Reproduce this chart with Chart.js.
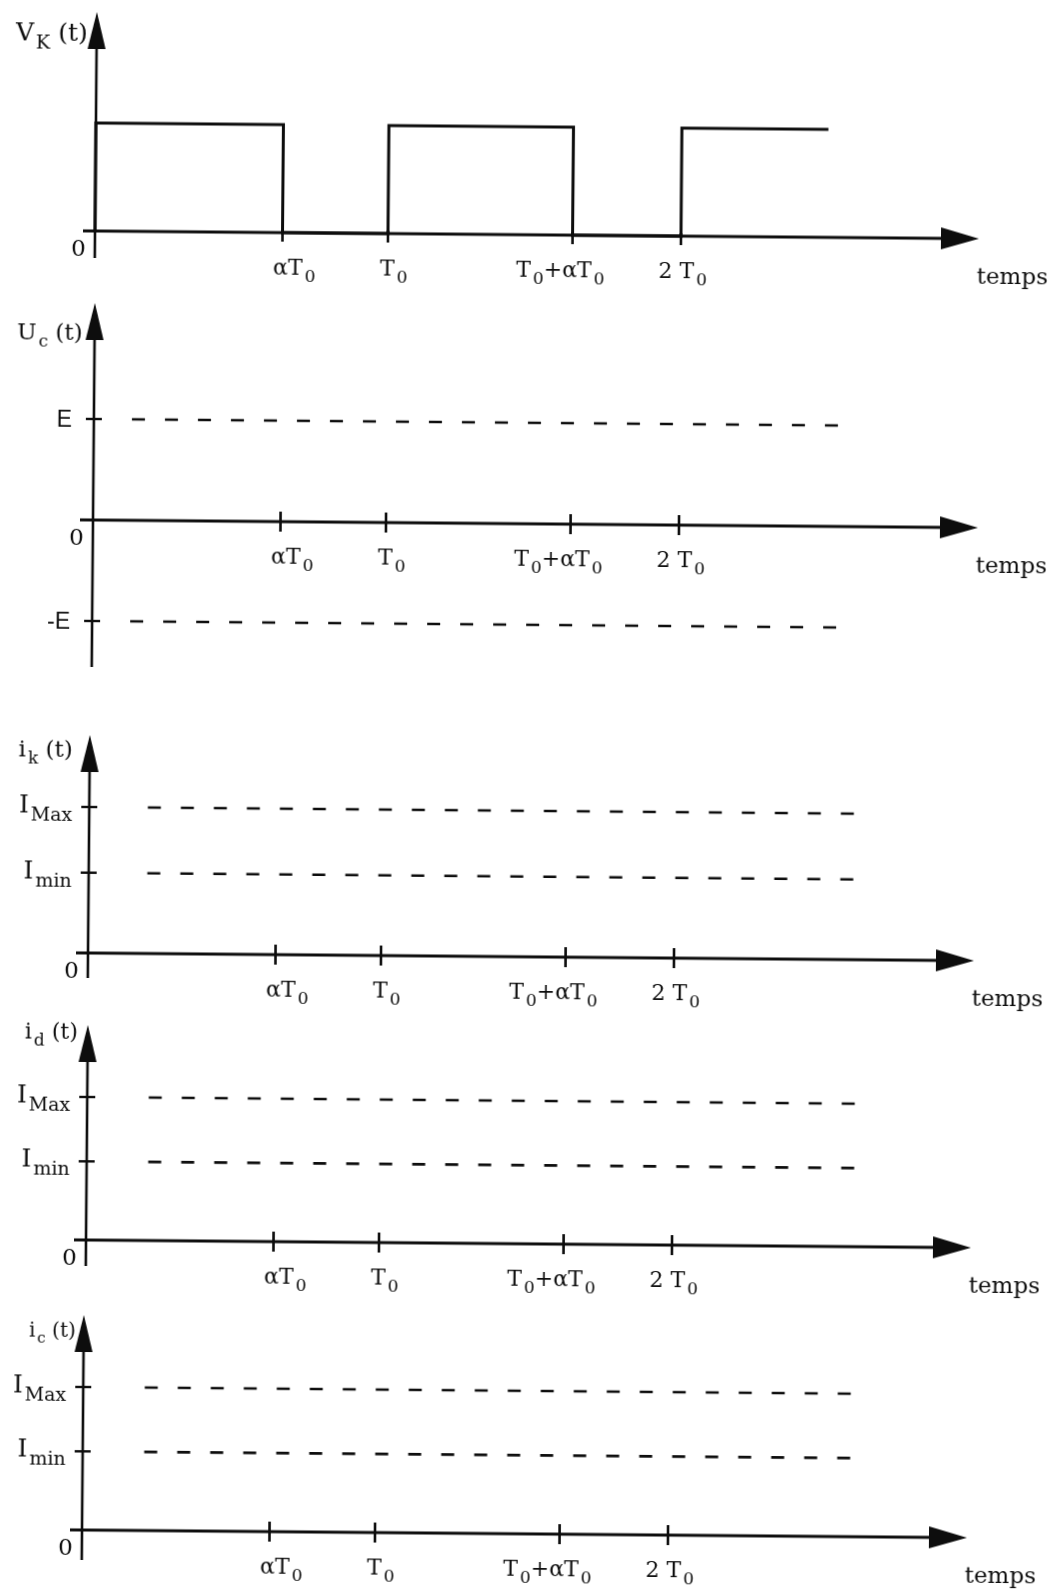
<!DOCTYPE html>
<html>
<head>
<meta charset="utf-8">
<script src="https://cdn.jsdelivr.net/npm/chart.js@4.4.1/dist/chart.umd.min.js"></script>
<style>
  html, body { margin: 0; padding: 0; background: #fff; }
  #wrap { position: relative; width: 1055px; height: 1594px; overflow: hidden; background: #fff; }
  #wrap canvas { position: absolute; left: 0; top: 0; }
</style>
</head>
<body>
<div id="wrap">
  <canvas id="vk" width="1055" height="1594"></canvas>
  <canvas id="uc" width="1055" height="1594"></canvas>
  <canvas id="ik" width="1055" height="1594"></canvas>
  <canvas id="id" width="1055" height="1594"></canvas>
  <canvas id="ic" width="1055" height="1594"></canvas>
</div>
<script>
// temps en unités de T0, niveaux normalisés
const tickValues = [0.64, 1, 1.63, 2];
const tickLabels = ['αT_{0}', 'T_{0}', 'T_{0}+αT_{0}', '2 T_{0}'];

const vkTime  = [0, 0, 0.64, 0.64, 1, 1, 1.63, 1.63, 2, 2, 2.5];
const vkLevel = [0, 1, 1, 0, 0, 1, 1, 0, 0, 1, 1];

const ucLevels = [1, -1];
const ucLabels = ['E', '-E'];
const ucDash = [0.13, 2.58];

const iLevels = [1, 0.55];
const iLabels = ['I_{Max}', 'I_{min}'];
const ikDash = [0.2, 2.67];
const idDash = [0.21, 2.66];
const icDash = [0.21, 2.67];

const titles = ['V_{K} (t)', 'U_{c} (t)', 'i_{k} (t)', 'i_{d} (t)', 'i_{c} (t)'];

// mise en page (pixels)
const W = 1055, H = 1594, pxPerT = 293;
const TILT = 0.5; // degrés, inclinaison du scan
const INK = '#0d0d0d';
const SERIF = '"DejaVu Serif", "Liberation Serif", serif';
const SANS = '"Liberation Sans Narrow", "Liberation Sans", sans-serif';
const tickLabelDx = [12, 6, -12, 2];

const panels = [
  { axisX: 95, zeroY: 231, unit: 108, top: 12,   bottom: 258,  tip: 979, left: 83, titleX: 86, titleY: 41,   titleSize: 25 },
  { axisX: 93, zeroY: 520, unit: 101, top: 303,  bottom: 667,  tip: 978, left: 80, titleX: 81, titleY: 340,  titleSize: 23 },
  { axisX: 88, zeroY: 953, unit: 146, top: 735,  bottom: 978,  tip: 974, left: 76, titleX: 71, titleY: 757,  titleSize: 23 },
  { axisX: 86, zeroY: 1240, unit: 143, top: 1025, bottom: 1266, tip: 971, left: 74, titleX: 76, titleY: 1039, titleSize: 22 },
  { axisX: 82, zeroY: 1530, unit: 143, top: 1315, bottom: 1560, tip: 967, left: 70, titleX: 74, titleY: 1337, titleSize: 20 }
];

// texte avec indices : 'I_{Max}'
function parseRich(str) {
  const runs = [];
  const re = /_\{([^}]*)\}/g;
  let last = 0, m;
  while ((m = re.exec(str))) {
    if (m.index > last) runs.push({ t: str.slice(last, m.index), sub: false });
    runs.push({ t: m[1], sub: true });
    last = re.lastIndex;
  }
  if (last < str.length) runs.push({ t: str.slice(last), sub: false });
  return runs;
}

function drawRich(ctx, str, x, y, align, size, family, ratio = 0.78) {
  const runs = parseRich(str);
  const subSize = Math.round(size * ratio);
  let total = 0;
  runs.forEach(r => {
    ctx.font = (r.sub ? subSize : size) + 'px ' + family;
    r.w = ctx.measureText(r.t).width + (r.sub ? 2 : 0);
    total += r.w;
  });
  let cx = align === 'right' ? x - total : align === 'center' ? x - total / 2 : x;
  ctx.textAlign = 'left';
  ctx.textBaseline = 'alphabetic';
  runs.forEach(r => {
    ctx.font = (r.sub ? subSize : size) + 'px ' + family;
    ctx.fillText(r.t, cx + (r.sub ? 2 : 0), y + (r.sub ? Math.round(size * 0.3) : 0));
    cx += r.w;
  });
}

function seg(ctx, x1, y1, x2, y2) {
  ctx.beginPath(); ctx.moveTo(x1, y1); ctx.lineTo(x2, y2); ctx.stroke();
}

function axesPlugin(p, idx, levels, levelLabels, levelStyle) {
  return {
    id: 'axes' + idx,
    afterDatasetsDraw(chart) {
      const { ctx, scales: { x, y } } = chart;
      const x0 = x.getPixelForValue(0), y0 = y.getPixelForValue(0);
      const xl = x.getPixelForValue(x.min), xr = x.getPixelForValue(x.max);
      const yt = y.getPixelForValue(y.max), yb = y.getPixelForValue(y.min);
      ctx.save();
      ctx.strokeStyle = INK; ctx.fillStyle = INK; ctx.lineCap = 'butt';

      // axe des temps + flèche
      ctx.lineWidth = 3;
      seg(ctx, xl, y0, xr - 30, y0);
      ctx.beginPath();
      ctx.moveTo(xr, y0); ctx.lineTo(xr - 38, y0 - 11); ctx.lineTo(xr - 38, y0 + 11); ctx.closePath(); ctx.fill();

      // axe vertical + flèche
      ctx.lineWidth = 2.6;
      seg(ctx, x0, yb, x0, yt + 30);
      ctx.beginPath();
      ctx.moveTo(x0, yt); ctx.lineTo(x0 - 9, yt + 37); ctx.lineTo(x0 + 9, yt + 37); ctx.closePath(); ctx.fill();

      // graduations temporelles
      ctx.lineWidth = 2.6;
      tickValues.forEach((v, i) => {
        const px = x.getPixelForValue(v);
        if (idx > 0) seg(ctx, px, y0 - 10, px, y0 + 10);
        else seg(ctx, px, y0 - 3, px, y0 + 9);
        drawRich(ctx, tickLabels[i], px + tickLabelDx[i], y0 + 42, 'center', 22, SERIF);
      });

      // graduations de niveau
      levels.forEach((v, i) => {
        const py = y.getPixelForValue(v);
        ctx.lineWidth = 2.4;
        seg(ctx, x0 - 8, py, x0 + 8, py);
        if (levelStyle === 'sans') {
          drawRich(ctx, levelLabels[i], x0 - 22, py + 8, 'right', 23, SANS);
        } else {
          drawRich(ctx, levelLabels[i], x0 - 17, py + 6, 'right', 25, SERIF, 0.76);
        }
      });

      // origine, titre, temps
      drawRich(ctx, '0', x0 - 9, y0 + 25, 'right', 23, SERIF);
      drawRich(ctx, titles[idx], p.titleX, p.titleY, 'right', p.titleSize, SERIF, 0.75);
      drawRich(ctx, 'temps', xr - 2, y0 + 45, 'left', 23, SERIF);
      ctx.restore();
    }
  };
}

function dashedLevel(level, range) {
  return {
    data: [{ x: range[0], y: level }, { x: range[1], y: level }],
    borderColor: INK, borderWidth: 2.6, borderDash: [13, 20], pointRadius: 0, clip: false
  };
}

function buildChart(id, idx, datasets, levels, levelLabels, levelStyle) {
  const p = panels[idx];
  const canvas = document.getElementById(id);
  canvas.style.transformOrigin = p.axisX + 'px ' + p.zeroY + 'px';
  canvas.style.transform = 'rotate(' + TILT + 'deg)';
  const xMin = -(p.axisX - p.left) / pxPerT, xMax = (p.tip - p.axisX) / pxPerT;
  const yMax = (p.zeroY - p.top) / p.unit, yMin = -(p.bottom - p.zeroY) / p.unit;
  return new Chart(canvas, {
    type: 'line',
    data: { datasets: datasets },
    options: {
      responsive: false, animation: false, events: [],
      layout: { padding: { left: p.left, right: W - p.tip, top: p.top, bottom: H - p.bottom } },
      scales: {
        x: { type: 'linear', min: xMin, max: xMax, display: false },
        y: { type: 'linear', min: yMin, max: yMax, display: false }
      },
      plugins: { legend: { display: false }, tooltip: { enabled: false } }
    },
    plugins: [axesPlugin(p, idx, levels, levelLabels, levelStyle)]
  });
}

// 1. tension V_K
buildChart('vk', 0, [{
  data: vkTime.map((t, i) => ({ x: t, y: vkLevel[i] })),
  borderColor: INK, borderWidth: 3, pointRadius: 0, tension: 0, clip: false
}], [], [], 'serif');

// 2. U_c
buildChart('uc', 1, ucLevels.map(v => dashedLevel(v, ucDash)), ucLevels, ucLabels, 'sans');

// 3-5. courants
buildChart('ik', 2, iLevels.map(v => dashedLevel(v, ikDash)), iLevels, iLabels, 'serif');
buildChart('id', 3, iLevels.map(v => dashedLevel(v, idDash)), iLevels, iLabels, 'serif');
buildChart('ic', 4, iLevels.map(v => dashedLevel(v, icDash)), iLevels, iLabels, 'serif');
</script>
</body>
</html>
